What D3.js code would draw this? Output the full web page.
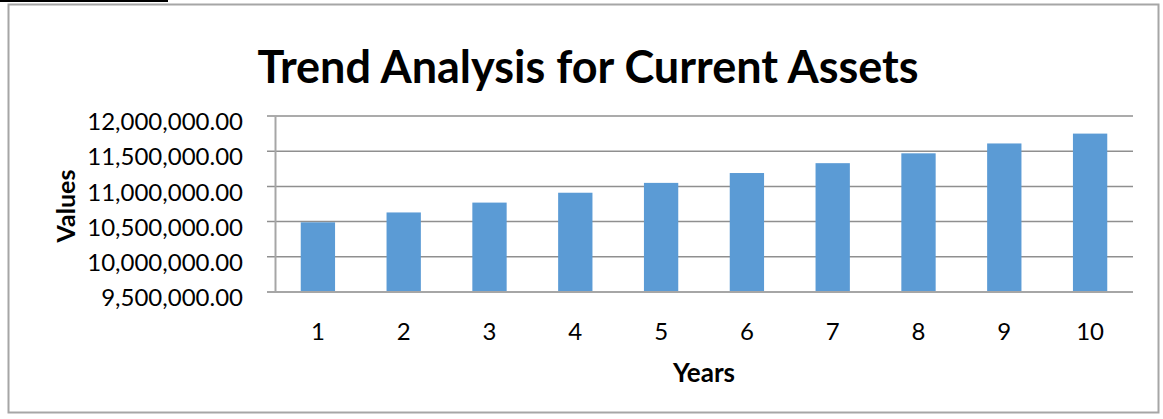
<!DOCTYPE html>
<html>
<head>
<meta charset="utf-8">
<script src="https://cdn.jsdelivr.net/npm/d3@7"></script>
<style>
  body { margin: 0; background: #fff; }
  svg { display: block; font-family: Lato, "Open Sans", sans-serif; }
</style>
</head>
<body>
<div id="chart"></div>
<script>
// Chart data
const years = ["1", "2", "3", "4", "5", "6", "7", "8", "9", "10"];
const values = [10490000, 10630000, 10770000, 10910000, 11050000, 11190000, 11330000, 11470000, 11610000, 11750000];
const yTicks = [9500000, 10000000, 10500000, 11000000, 11500000, 12000000];

const width = 1163;
const height = 419;
const margin = { top: 116, right: 30, bottom: 127, left: 275 };

const svg = d3.select("#chart").append("svg")
    .attr("width", width)
    .attr("height", height);

// Outer chart border
svg.append("rect")
    .attr("x", 8.5).attr("y", 4.5)
    .attr("width", 1150).attr("height", 408)
    .attr("fill", "#fff")
    .attr("stroke", "#a6a6a6")
    .attr("stroke-width", 2);

// Short black line at the top left
svg.append("line")
    .attr("x1", 0).attr("x2", 168)
    .attr("y1", 1).attr("y2", 1)
    .attr("stroke", "#000")
    .attr("stroke-width", 2);

const xScale = d3.scaleBand()
    .domain(years)
    .range([margin.left, width - margin.right])
    .paddingInner(0.6)
    .paddingOuter(0.3);

const yScale = d3.scaleLinear()
    .domain([9500000, 12000000])
    .range([height - margin.bottom, margin.top]);

// Gridlines
svg.append("g")
    .selectAll("line")
    .data(yTicks)
    .enter()
    .append("line")
    .attr("x1", margin.left - 8)
    .attr("x2", width - margin.right)
    .attr("y1", d => yScale(d))
    .attr("y2", d => yScale(d))
    .attr("stroke", "#8f8f8f")
    .attr("stroke-width", 1.5);

// Bars
svg.append("g")
    .selectAll("rect")
    .data(years.map((y, i) => ({ year: y, value: values[i] })))
    .enter()
    .append("rect")
    .attr("x", d => xScale(d.year))
    .attr("y", d => yScale(d.value))
    .attr("width", xScale.bandwidth())
    .attr("height", d => yScale(9500000) - yScale(d.value))
    .attr("fill", "#5b9bd5");

// Y axis
const yAxis = d3.axisLeft(yScale)
    .tickValues(yTicks)
    .tickSize(0)
    .tickPadding(32)
    .tickFormat(d3.format(",.2f"));

const yg = svg.append("g")
    .attr("transform", `translate(${margin.left}, 0)`)
    .call(yAxis);
yg.select(".domain").attr("stroke", "#a6a6a6").attr("stroke-width", 2);
yg.selectAll("text")
    .attr("font-size", 24)
    .attr("fill", "#000")
    .attr("y", 6)
    .attr("font-family", "Lato, sans-serif");

// X axis
const xAxis = d3.axisBottom(xScale).tickSize(0).tickPadding(31);
const xg = svg.append("g")
    .attr("transform", `translate(0, ${height - margin.bottom})`)
    .call(xAxis);
xg.select(".domain").attr("stroke", "#a6a6a6").attr("stroke-width", 2)
    .attr("d", `M${margin.left - 8},0H${width - margin.right}`);
xg.selectAll("text")
    .attr("font-size", 24)
    .attr("fill", "#000")
    .attr("font-family", "Lato, sans-serif");

// Title
svg.append("text")
    .attr("x", 588)
    .attr("y", 83)
    .attr("text-anchor", "middle")
    .attr("font-size", 45)
    .attr("font-weight", "bold")
    .text("Trend Analysis for Current Assets");

// Axis titles
svg.append("text")
    .attr("x", 704)
    .attr("y", 382)
    .attr("text-anchor", "middle")
    .attr("font-size", 26)
    .attr("font-weight", "bold")
    .text("Years");

svg.append("text")
    .attr("transform", "translate(75, 206) rotate(-90)")
    .attr("text-anchor", "middle")
    .attr("font-size", 25)
    .attr("font-weight", "bold")
    .text("Values");
</script>
</body>
</html>
